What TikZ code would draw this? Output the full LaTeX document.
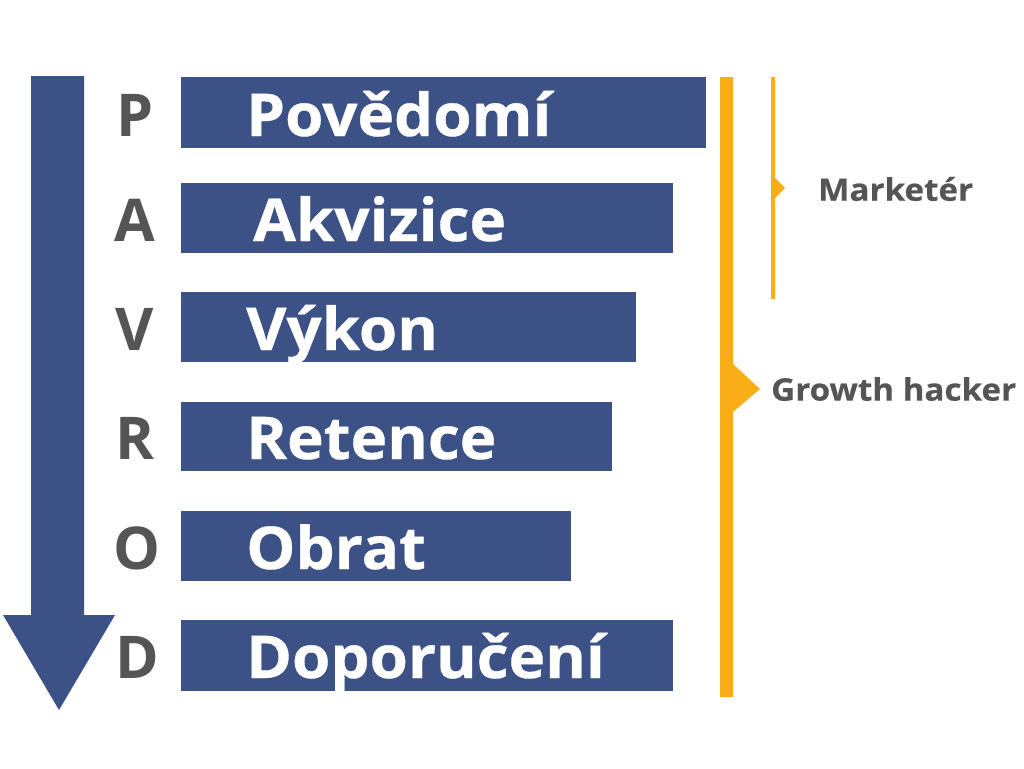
\documentclass[tikz,border=0pt]{standalone}
\usepackage{fontspec}
\setmainfont{Open Sans}
\newfontfamily\widebar{Open Sans}[FakeStretch=1.05, BoldFeatures={FakeBold=0.6}]
\newfontfamily\widerole{Open Sans}[FakeStretch=1.07, BoldFeatures={FakeBold=0.4}]
\definecolor{barblue}{RGB}{60,82,134}
\definecolor{txtgray}{RGB}{85,85,85}
\definecolor{gold}{RGB}{249,174,23}
\begin{document}
\begin{tikzpicture}[x=1pt,y=-1pt,
  bar/.style={fill=barblue, draw=none, rectangle, inner sep=0pt, anchor=north west},
  bartext/.style={text=white, font=\widebar\bfseries\fontsize{59}{59}\selectfont, inner sep=0pt, anchor=base west},
  letter/.style={text=txtgray, font=\bfseries\fontsize{59}{59}\selectfont, inner sep=0pt, anchor=base},
  role/.style={text=txtgray, font=\widerole\bfseries\fontsize{31}{31}\selectfont, inner sep=0pt, anchor=west}]
\useasboundingbox (0,0) rectangle (1024,768);
% big arrow
\fill[barblue] (31,76) -- (84,76) -- (84,615) -- (115,615) -- (59,710) -- (3,615) -- (31,615) -- cycle;
% bars
\node[bar, minimum width=525pt, minimum height=71pt] (b1) at (181,77) {};
\node[bar, minimum width=492pt, minimum height=70pt] (b2) at (181,183) {};
\node[bar, minimum width=455pt, minimum height=70pt] (b3) at (181,292) {};
\node[bar, minimum width=431pt, minimum height=69pt] (b4) at (181,402) {};
\node[bar, minimum width=390pt, minimum height=70pt] (b5) at (181,511) {};
\node[bar, minimum width=492pt, minimum height=71pt] (b6) at (181,620) {};
% bar texts
\node[bartext] (t1) at (246,136) {Povědomí};
\node[bartext] (t2) at (253,241) {Akvizice};
\node[bartext] (t3) at (246,350) {Výkon};
\node[bartext] (t4) at (246,459) {Retence};
\node[bartext] (t5) at (246,569) {Obrat};
\node[bartext] (t6) at (246,678) {Doporučení};
% letters
\node[letter] (l1) at (135,136) {P};
\node[letter] (l2) at (135,241) {A};
\node[letter] (l3) at (135,350) {V};
\node[letter] (l4) at (135,459) {R};
\node[letter] (l5) at (137,569) {O};
\node[letter] (l6) at (137,678) {D};
% brackets
\fill[gold] (720,77) -- (733,77) -- (733,364) -- (760,389) -- (733,412) -- (733,697) -- (720,697) -- cycle;
\fill[gold] (771,77) -- (775,77) -- (775,178) -- (785,188) -- (775,198) -- (775,299) -- (771,299) -- cycle;
\node[role] (m) at (818,189) {Marketér};
\node[role] (g) at (771,389) {Growth hacker};
\end{tikzpicture}
\end{document}
